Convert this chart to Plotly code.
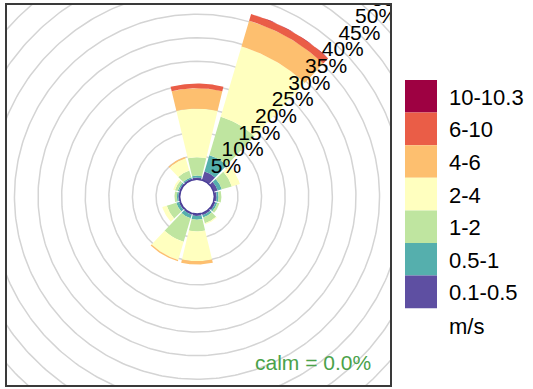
import numpy as np
import plotly.graph_objects as go

# Wind directions (degrees clockwise from north) and speed intervals
directions = [0, 30, 60, 90, 120, 150, 180, 210, 240, 270, 300, 330]
speed_bins = ["0.1-0.5", "0.5-1", "1-2", "2-4", "4-6", "6-10", "10-10.3"]
bin_colours = ["#5E4FA2", "#55AFAD", "#BFE5A0", "#FFFFBF", "#FDBF6F", "#EA5D47", "#9E0142"]

# Frequency (%) of each speed interval per direction
freq_01_05 = [0.4, 1.9, 0.9, 0.5, 0.4, 0.4, 0.4, 0.3, 0.3, 0.3, 0.3, 0.3]
freq_05_1 = [0.4, 3.6, 0.9, 0.4, 0.4, 0.5, 0.8, 0.8, 0.6, 0.3, 0.3, 0.3]
freq_1_2 = [3.9, 8.5, 2.2, 0.6, 0.5, 1.3, 2.5, 5.2, 2.1, 0.5, 0.6, 1.5]
freq_2_4 = [10.3, 15.5, 1.8, 0.0, 0.0, 0.2, 6.3, 4.0, 1.0, 0.0, 0.4, 2.7]
freq_4_6 = [4.3, 5.7, 0.0, 0.0, 0.0, 0.0, 0.7, 0.3, 0.0, 0.0, 0.0, 0.3]
freq_6_10 = [1.0, 1.5, 0.0, 0.0, 0.0, 0.0, 0.0, 0.0, 0.0, 0.0, 0.0, 0.0]
freq_10_103 = [0.0, 0.05, 0.0, 0.0, 0.0, 0.0, 0.0, 0.0, 0.0, 0.0, 0.0, 0.0]

ring_step = 5          # grid ring interval (%)
n_rings = 11
calm_pct = 0.0
units = "m/s"

freqs = [freq_01_05, freq_05_1, freq_1_2, freq_2_4, freq_4_6, freq_6_10, freq_10_103]
totals = np.sum(np.array(freqs), axis=0)
off = 0.1 * totals.max()          # radius of the central hole
sector = 30 * 0.9                  # drawn width of each direction sector

FONT = "Liberation Sans, Arial, sans-serif"

# Page geometry (pixels)
W, H = 533, 389
L, R, T, B = 7, 390, 5, 385
ppu = 4.72
cx, cy = 197, 196.7
x_range = [(L - cx) / ppu, (R - cx) / ppu]
y_range = [(cy - B) / ppu, (cy - T) / ppu]


def paper_x(px):
    return (px - L) / (R - L)


def paper_y(py):
    return (B - py) / (B - T)


fig = go.Figure()

# Grid rings
t = np.linspace(0, 2 * np.pi, 361)
for k in range(1, n_rings + 1):
    r = off + ring_step * k
    fig.add_trace(go.Scatter(x=r * np.sin(t), y=r * np.cos(t), mode="lines",
                             line=dict(color="#d4d4d4", width=1.5),
                             hoverinfo="skip", showlegend=False))

# Stacked wedges per speed interval
cum = np.zeros(len(directions))
for name, colour, f in zip(speed_bins, bin_colours, freqs):
    xs, ys = [], []
    for i, d in enumerate(directions):
        if f[i] <= 0:
            continue
        r1 = off + cum[i]
        r2 = off + cum[i] + f[i]
        th = np.radians(np.linspace(d - sector / 2, d + sector / 2, 30))
        px = np.concatenate([r2 * np.sin(th), r1 * np.sin(th[::-1])])
        py = np.concatenate([r2 * np.cos(th), r1 * np.cos(th[::-1])])
        xs += list(px) + [px[0], None]
        ys += list(py) + [py[0], None]
    cum += np.array(f)
    fig.add_trace(go.Scatter(x=xs, y=ys, mode="lines", fill="toself",
                             fillcolor=colour, line=dict(width=0, color=colour),
                             name=name, hoverinfo="skip", showlegend=False))

# Edge of the central hole
fig.add_trace(go.Scatter(x=off * np.sin(t), y=off * np.cos(t), mode="lines",
                         line=dict(color="#4b3f98", width=1.5),
                         hoverinfo="skip", showlegend=False))

# Ring labels along the 45 degree line, clipped to the panel
a = np.radians(45)
ring_r = off + ring_step * np.arange(1, n_rings + 1)
fig.add_trace(go.Scatter(x=ring_r * np.sin(a), y=ring_r * np.cos(a), mode="text",
                         text=[f"{ring_step * k}%" for k in range(1, n_rings + 1)],
                         textposition="middle center", cliponaxis=True,
                         textfont=dict(family=FONT, size=21, color="black"),
                         hoverinfo="skip", showlegend=False))

# Calm annotation
fig.add_annotation(x=paper_x(313), y=paper_y(362), xref="paper", yref="paper",
                   text=f"calm = {calm_pct:.1f}%", showarrow=False,
                   xanchor="center", yanchor="middle",
                   font=dict(family=FONT, size=21, color="#4aa24a"))

# Colour key
box_top, box_h = 80, 32.6
for j, (name, colour) in enumerate(zip(speed_bins[::-1], bin_colours[::-1])):
    y0 = box_top + j * box_h
    fig.add_shape(type="rect", xref="paper", yref="paper",
                  x0=paper_x(405), x1=paper_x(437), y0=paper_y(y0), y1=paper_y(y0 + box_h),
                  fillcolor=colour, line=dict(width=0), layer="above")
    fig.add_annotation(x=paper_x(447), y=paper_y(y0 + box_h / 2 + 1), xref="paper", yref="paper",
                       text=name, showarrow=False, xanchor="left", yanchor="middle",
                       font=dict(family=FONT, size=22, color="black"))
fig.add_annotation(x=paper_x(447), y=paper_y(326), xref="paper", yref="paper",
                   text=units, showarrow=False, xanchor="left", yanchor="middle",
                   font=dict(family=FONT, size=22, color="black"))

axis_common = dict(showgrid=False, zeroline=False, showticklabels=False, ticks="",
                   showline=True, mirror=True, linecolor="#3a3a3a", linewidth=2)
fig.update_layout(
    width=W, height=H,
    margin=dict(l=L, r=W - R, t=T, b=H - B),
    paper_bgcolor="white", plot_bgcolor="white",
    xaxis=dict(range=x_range, **axis_common),
    yaxis=dict(range=y_range, **axis_common),
    showlegend=False,
)

fig.write_html("out.html")
